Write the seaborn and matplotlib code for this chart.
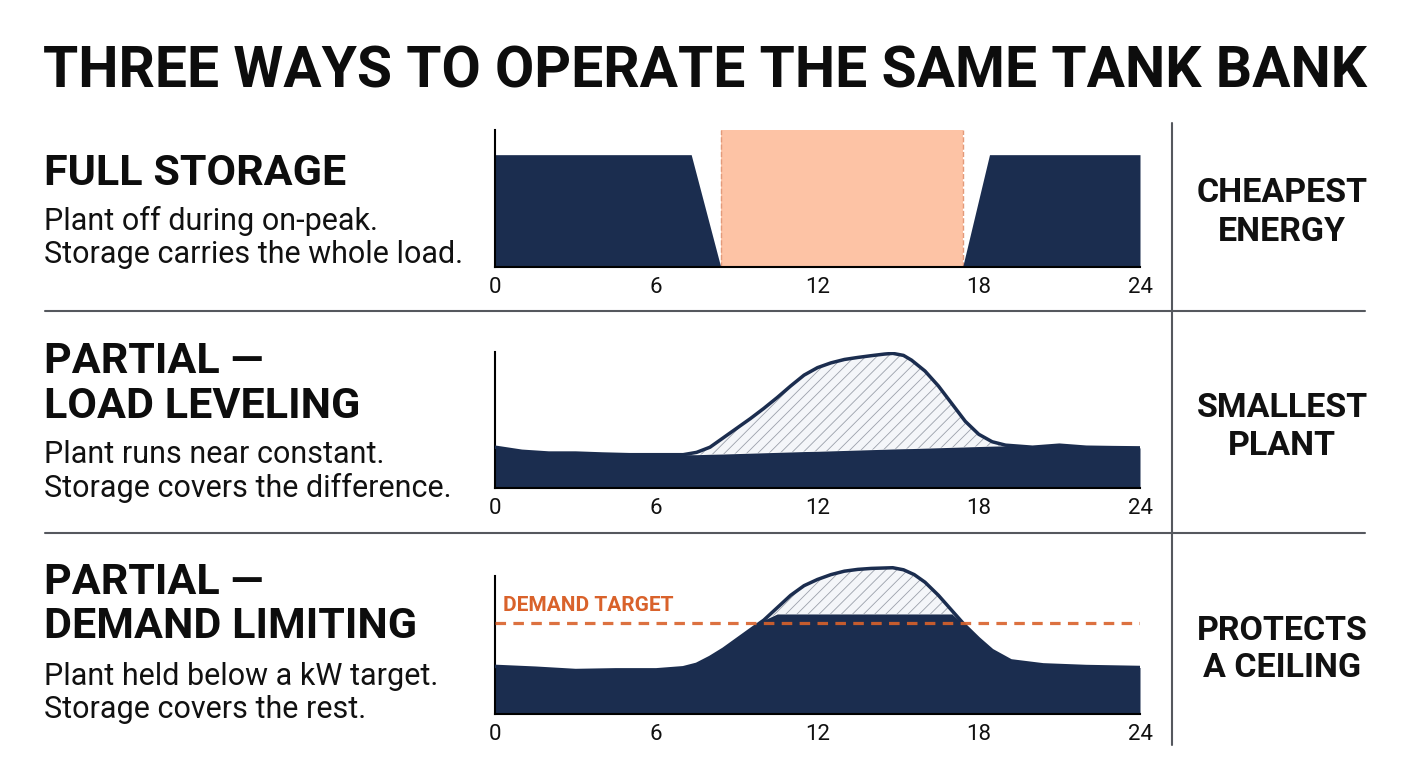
import numpy as np
import matplotlib
matplotlib.use("Agg")
import matplotlib.pyplot as plt
import seaborn as sns

# data (hours 0-24, relative load 0-1)
fs_hours = [0, 7.3, 8.4, 17.4, 18.4, 24]
fs_plant = [0.82, 0.82, 0.0, 0.0, 0.82, 0.82]
fs_peak = [8.4, 17.4]

lv_hours = [0, 1, 2, 3, 4, 5, 6, 7, 7.5, 8, 8.5, 9, 9.5, 10, 10.5, 11, 11.5, 12, 12.5,
            13, 13.5, 14, 14.5, 14.8, 15.2, 15.5, 16, 16.5, 17, 17.5, 18, 18.5, 19,
            20, 21, 22, 23, 24]
lv_load = [0.30, 0.27, 0.257, 0.257, 0.25, 0.245, 0.245, 0.245, 0.262, 0.30, 0.37,
           0.44, 0.51, 0.585, 0.665, 0.75, 0.83, 0.885, 0.92, 0.945, 0.96, 0.973,
           0.985, 0.99, 0.975, 0.94, 0.86, 0.75, 0.62, 0.49, 0.395, 0.34, 0.315,
           0.30, 0.315, 0.30, 0.297, 0.295]
lv_plant = [0.30, 0.27, 0.257, 0.257, 0.25, 0.245, 0.245, 0.245, 0.245, 0.248, 0.25,
            0.253, 0.256, 0.259, 0.262, 0.265, 0.268, 0.27, 0.273, 0.276, 0.279, 0.282,
            0.285, 0.287, 0.289, 0.29, 0.293, 0.296, 0.299, 0.302, 0.305, 0.308, 0.31,
            0.30, 0.315, 0.30, 0.297, 0.295]

dl_hours = [0, 1.5, 3, 4.5, 6, 7, 7.5, 8, 8.5, 9, 9.5, 10, 10.5, 11, 11.5, 12, 12.5,
            13, 13.5, 14, 14.8, 15.2, 15.6, 16, 16.5, 17, 17.5, 18, 18.5, 19.2, 20.4,
            22, 24]
dl_load = [0.345, 0.332, 0.315, 0.32, 0.32, 0.335, 0.36, 0.41, 0.47, 0.54, 0.61, 0.68,
           0.77, 0.86, 0.93, 0.975, 1.01, 1.035, 1.048, 1.055, 1.06, 1.045, 1.01,
           0.955, 0.86, 0.75, 0.64, 0.545, 0.46, 0.385, 0.356, 0.344, 0.337]
dl_cap = 0.725
dl_target = 0.66

tick_hours = [0, 6, 12, 18, 24]

titles = ["FULL STORAGE", "PARTIAL \u2014\nLOAD LEVELING", "PARTIAL \u2014\nDEMAND LIMITING"]
subtitles = ["Plant off during on-peak.\nStorage carries the whole load.",
             "Plant runs near constant.\nStorage covers the difference.",
             "Plant held below a kW target.\nStorage covers the rest."]
verdicts = ["CHEAPEST\nENERGY", "SMALLEST\nPLANT", "PROTECTS\nA CEILING"]

navy = "#1b2d4f"
pink = "#fdc3a5"
orange = "#d9622b"
grey = "#55585e"
hatch_grey = "#9aa0aa"

sns.set_theme(style="white")
plt.rcParams["font.family"] = ["Roboto", "DejaVu Sans"]
plt.rcParams["hatch.color"] = hatch_grey
plt.rcParams["hatch.linewidth"] = 0.6

W, H = 1408, 768
fig = plt.figure(figsize=(W / 100, H / 100), dpi=100)
fig.patch.set_facecolor("white")


def px(x, y):
    return x / W, 1 - y / H


def make_ax(top, bottom, ytop=1.0):
    l, b = px(495, bottom)
    ax = fig.add_axes([l, b, 645 / W, ytop * (bottom - top) / H])
    ax.set_xlim(0, 24)
    ax.set_ylim(0, ytop)
    ax.set_xticks(tick_hours)
    ax.set_xticklabels([str(h) for h in tick_hours], fontsize=16, color="#111111")
    ax.set_yticks([])
    ax.tick_params(axis="x", length=0, pad=7)
    for s in ["top", "right"]:
        ax.spines[s].set_visible(False)
    for s in ["left", "bottom"]:
        ax.spines[s].set_color("black")
        ax.spines[s].set_linewidth(1.5)
    ax.spines["left"].set_bounds(0, 1)
    ax.set_facecolor("white")
    return ax


# panel 1 - full storage
ax1 = make_ax(130, 267)
ax1.axvspan(fs_peak[0], fs_peak[1], color=pink, lw=0, zorder=1)
for h in fs_peak:
    ax1.axvline(h, color="#e39a7a", ls="--", lw=1, zorder=1.5)
ax1.fill_between(fs_hours, 0, fs_plant, color=navy, lw=0, zorder=2)

# panel 2 - load leveling
ax2 = make_ax(352, 488)
ax2.fill_between(lv_hours, lv_plant, lv_load, facecolor="#f4f6f9", edgecolor=hatch_grey,
                 hatch="///", lw=0, zorder=1)
ax2.fill_between(lv_hours, 0, lv_plant, color=navy, lw=0, zorder=2)
sns.lineplot(x=lv_hours, y=lv_load, ax=ax2, color=navy, lw=2.5, zorder=3)

# panel 3 - demand limiting
ax3 = make_ax(576, 714, ytop=1.1)
dl_plant = np.minimum(dl_load, dl_cap)
ax3.fill_between(dl_hours, dl_plant, dl_load, facecolor="#f4f6f9", edgecolor=hatch_grey,
                 hatch="///", lw=0, zorder=1)
ax3.fill_between(dl_hours, 0, dl_plant, color=navy, lw=0, zorder=2)
sns.lineplot(x=dl_hours, y=dl_load, ax=ax3, color=navy, lw=2.5, zorder=3)
ax3.axhline(dl_target, color=orange, lw=2.3, ls=(0, (3.3, 2.3)), zorder=4, alpha=0.9)
ax3.text(0.3, 0.783, "DEMAND TARGET", color=orange, fontsize=15, fontweight="bold",
         va="center", ha="left", zorder=5)

# title
fig.text(*px(705, 87), "THREE WAYS TO OPERATE THE SAME TANK BANK", ha="center",
         va="baseline", fontsize=41, fontweight="bold", color="#0d0d0d")

# left text blocks
head_base = [(185,), (373, 418), (594, 638)]
sub_base = [(230, 263), (463, 497), (685, 718)]
head_size = [31, 31, 31]
for i in range(3):
    for line, y in zip(titles[i].split("\n"), head_base[i]):
        fig.text(*px(44, y), line, ha="left", va="baseline", fontsize=head_size[i],
                 fontweight="bold", color="#0d0d0d")
    for line, y in zip(subtitles[i].split("\n"), sub_base[i]):
        fig.text(*px(44, y), line, ha="left", va="baseline", fontsize=22, color="#111111")

# right verdicts
verdict_base = [(202, 241), (417, 455), (640, 677)]
for i in range(3):
    for line, y in zip(verdicts[i].split("\n"), verdict_base[i]):
        fig.text(*px(1282, y), line, ha="center", va="baseline", fontsize=24.5,
                 fontweight="bold", color="#111111")

# separators
for y in [311, 533]:
    fig.add_artist(plt.Line2D([45 / W, 1365 / W], [1 - y / H, 1 - y / H], color=grey, lw=1.5))
fig.add_artist(plt.Line2D([1172 / W, 1172 / W], [1 - 123 / H, 1 - 745 / H], color=grey, lw=1.5))

fig.savefig("out.png", dpi=100, facecolor="white")
